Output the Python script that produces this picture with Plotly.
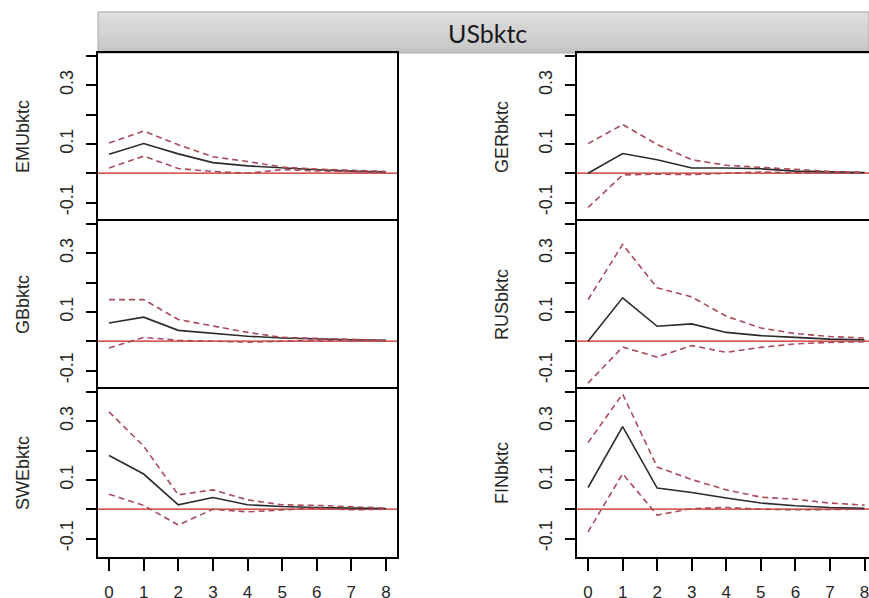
import plotly.graph_objects as go

# The page is photographed at 869x598 from the top-left; the figure is made a
# little taller so that the bottom tick labels are cut at the frame edge, as in
# the reference.
W, H = 869, 612

# ---------------- data ----------------
horizon = [0, 1, 2, 3, 4, 5, 6, 7, 8]
impulse = "USbktc"
responses = ["EMUbktc", "GERbktc", "GBbktc", "RUSbktc", "SWEbktc", "FINbktc"]

emu_irf   = [0.065, 0.101, 0.066, 0.036, 0.025, 0.018, 0.012, 0.007, 0.004]
emu_upper = [0.103, 0.144, 0.097, 0.056, 0.040, 0.021, 0.014, 0.010, 0.006]
emu_lower = [0.018, 0.058, 0.016, 0.006, 0.000, 0.012, 0.008, 0.004, 0.002]

ger_irf   = [0.000, 0.067, 0.046, 0.018, 0.018, 0.015, 0.007, 0.004, 0.002]
ger_upper = [0.101, 0.166, 0.098, 0.046, 0.027, 0.020, 0.011, 0.006, 0.003]
ger_lower = [-0.117, -0.006, -0.003, -0.005, 0.000, 0.004, 0.001, 0.000, 0.000]

gb_irf    = [0.062, 0.082, 0.037, 0.026, 0.017, 0.011, 0.007, 0.005, 0.003]
gb_upper  = [0.142, 0.142, 0.074, 0.051, 0.030, 0.013, 0.010, 0.005, 0.003]
gb_lower  = [-0.023, 0.013, 0.003, 0.000, -0.003, 0.000, 0.003, 0.002, 0.001]

rus_irf   = [0.000, 0.148, 0.051, 0.059, 0.030, 0.019, 0.013, 0.007, 0.005]
rus_upper = [0.142, 0.330, 0.182, 0.151, 0.085, 0.045, 0.026, 0.016, 0.011]
rus_lower = [-0.143, -0.020, -0.054, -0.015, -0.038, -0.021, -0.009, -0.004, -0.002]

swe_irf   = [0.183, 0.120, 0.015, 0.040, 0.015, 0.009, 0.006, 0.004, 0.002]
swe_upper = [0.332, 0.215, 0.049, 0.066, 0.032, 0.015, 0.013, 0.009, 0.004]
swe_lower = [0.051, 0.013, -0.054, 0.000, -0.009, -0.002, 0.004, -0.002, 0.000]

fin_irf   = [0.074, 0.282, 0.072, 0.057, 0.038, 0.021, 0.012, 0.006, 0.003]
fin_upper = [0.227, 0.393, 0.144, 0.101, 0.066, 0.041, 0.034, 0.021, 0.014]
fin_lower = [-0.077, 0.121, -0.020, 0.002, 0.006, 0.000, -0.002, 0.000, 0.000]

series = [
    (emu_irf, emu_upper, emu_lower),
    (ger_irf, ger_upper, ger_lower),
    (gb_irf, gb_upper, gb_lower),
    (rus_irf, rus_upper, rus_lower),
    (swe_irf, swe_upper, swe_lower),
    (fin_irf, fin_upper, fin_lower),
]

y_tickvals = [-0.1, 0.0, 0.1, 0.2, 0.3, 0.4]
y_ticktext = ["-0.1", "", "0.1", "", "0.3", ""]
x_ticktext = ["0", "1", "2", "3", "4", "5", "6", "7", "8"]

# ---------------- layout geometry (pixels from top-left) ----------------
col_left_px = [98, 577]
col_right_px = [397, 869]
row_top_px = [53, 221, 389]
row_bot_px = [221, 389, 557]
x_ranges = [[-0.32, 8.32], [-0.32, 8.13]]
y_range = [-0.163, 0.41]

FONT = "Liberation Sans, Arial, sans-serif"
TXT = "#262626"
IRF_COL = "#2b2b2b"
CI_COL = "#a84c58"
ZERO_COL = "#c8201e"

fig = go.Figure()
layout = dict(
    width=W, height=H,
    margin=dict(l=0, r=0, t=0, b=0, pad=0),
    paper_bgcolor="white", plot_bgcolor="white",
    showlegend=False,
)
annotations = []
shapes = []

for i, (irf, up, lo) in enumerate(series):
    row, col = i // 2, i % 2
    k = i + 1
    xa = "xaxis" if k == 1 else f"xaxis{k}"
    ya = "yaxis" if k == 1 else f"yaxis{k}"
    xref = "x" if k == 1 else f"x{k}"
    yref = "y" if k == 1 else f"y{k}"

    # red reference line at zero (abline h=0)
    shapes.append(dict(
        type="line", xref=f"{xref} domain", yref=yref, layer="below",
        x0=0, x1=1, y0=0, y1=0,
        line=dict(color=ZERO_COL, width=1.3),
    ))

    for vals, color, dash, width in [
        (irf, IRF_COL, "solid", 1.6),
        (up, CI_COL, "6px,4px", 1.6),
        (lo, CI_COL, "6px,4px", 1.6),
    ]:
        fig.add_trace(go.Scatter(
            x=horizon, y=vals, mode="lines",
            line=dict(color=color, width=width, dash=dash),
            xaxis=xref, yaxis=yref, hoverinfo="skip",
        ))

    bottom = row == 2
    layout[xa] = dict(
        domain=[col_left_px[col] / W, col_right_px[col] / W],
        range=x_ranges[col],
        anchor=yref,
        side="bottom" if bottom else "top",
        showline=True, linecolor="black", linewidth=1.5, mirror=bottom,
        showgrid=False, zeroline=False,
        ticks="outside" if bottom else "",
        ticklen=12, tickwidth=1.5, tickcolor="black",
        tickvals=horizon, ticktext=x_ticktext,
        showticklabels=bottom,
        ticklabelstandoff=7,
        ticklabeloverflow="allow",
        tickfont=dict(family=FONT, size=17, color=TXT),
    )
    layout[ya] = dict(
        domain=[1 - row_bot_px[row] / H, 1 - row_top_px[row] / H],
        range=y_range,
        anchor=xref,
        showline=True, linecolor="black", linewidth=1.5, mirror=(col == 0),
        showgrid=False, zeroline=False,
        ticks="outside", ticklen=10, tickwidth=1.5, tickcolor="black",
        tickvals=y_tickvals, ticktext=y_ticktext,
        tickangle=-90,
        ticklabelstandoff=6,
        tickfont=dict(family=FONT, size=18, color=TXT),
    )

    # response name (y-axis title)
    title_x_px = col_left_px[col] - 75
    annotations.append(dict(
        text=responses[i], textangle=-90,
        x=title_x_px / W, y=1 - (row_top_px[row] + row_bot_px[row]) / 2 / H,
        xref="paper", yref="paper", xanchor="center", yanchor="middle",
        showarrow=False, font=dict(family=FONT, size=18, color=TXT),
    ))

# header strip (gradient grey)
strip_top, strip_bot = 12, 53
n_strips = 20
c_top, c_bot = 224, 194
for s in range(n_strips):
    y0 = strip_top + (strip_bot - strip_top) * s / n_strips
    y1 = strip_top + (strip_bot - strip_top) * (s + 1) / n_strips
    c = round(c_top + (c_bot - c_top) * (s + 0.5) / n_strips)
    shapes.append(dict(
        type="rect", xref="paper", yref="paper", layer="below",
        x0=98 / W, x1=1.0, y0=1 - y1 / H, y1=1 - y0 / H + 0.0005,
        fillcolor=f"rgb({c},{c},{c})", line=dict(width=0),
    ))
shapes.append(dict(
    type="rect", xref="paper", yref="paper", layer="below",
    x0=98 / W, x1=1.0, y0=1 - strip_bot / H, y1=1 - strip_top / H,
    fillcolor="rgba(0,0,0,0)", line=dict(color="#a8a8a8", width=1),
))
annotations.append(dict(
    text=impulse, x=487 / W, y=1 - 32.5 / H, xref="paper", yref="paper",
    xanchor="center", yanchor="middle", showarrow=False,
    font=dict(family="Lato, Open Sans, sans-serif", size=25, color="#1a1a1a"),
))

layout["annotations"] = annotations
layout["shapes"] = shapes
fig.update_layout(**layout)

fig.write_html(
    "out.html",
    config={"displayModeBar": False},
    post_script="document.documentElement.style.margin='0';document.body.style.margin='0';"
                "document.documentElement.style.overflow='hidden';document.body.style.overflow='hidden';",
)
